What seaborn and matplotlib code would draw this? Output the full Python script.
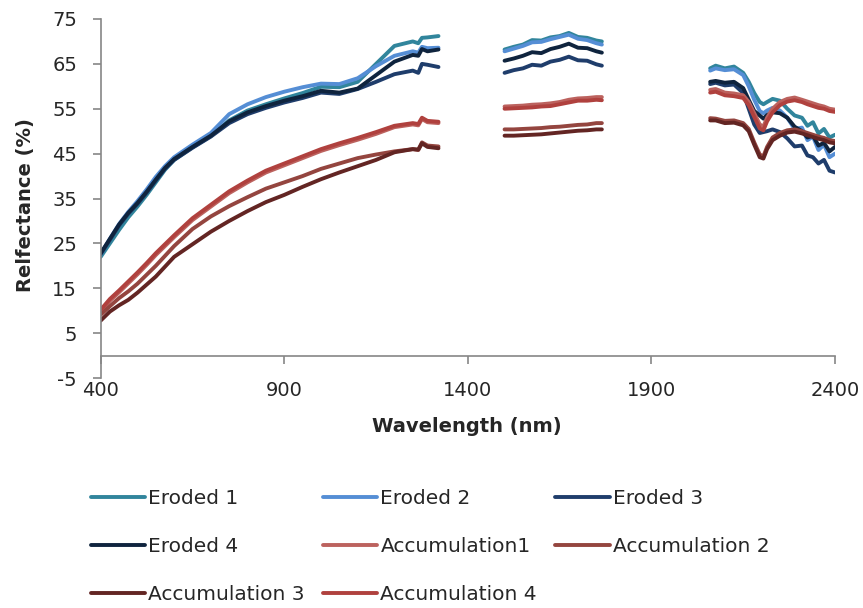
import numpy as np
import pandas as pd
import matplotlib
matplotlib.use('Agg')
import matplotlib.pyplot as plt
import seaborn as sns

series = ['Eroded 1', 'Eroded 2', 'Eroded 3', 'Eroded 4',
          'Accumulation1', 'Accumulation 2', 'Accumulation 3', 'Accumulation 4']
colores = ['#31859C', '#558ED5', '#1F3D6B', '#0F243E',
           '#BC625E', '#94453F', '#632523', '#B0413E']

# segmento 1: VNIR / SWIR1 (400-1320 nm)
wl1 = [400, 425, 450, 475, 500, 525, 550, 575, 600, 650, 700, 750, 800, 850,
       900, 950, 1000, 1050, 1100, 1150, 1200, 1250, 1265, 1275, 1290, 1320]
er1_s1 = [22.0, 25.0, 28.0, 30.8, 33.2, 35.8, 38.6, 41.4, 43.6, 46.4, 48.9, 52.4, 54.6, 56.0,
          57.3, 58.5, 59.9, 59.8, 61.0, 65.0, 69.0, 70.0, 69.6, 70.8, 70.9, 71.2]
er2_s1 = [22.6, 26.0, 29.3, 32.0, 34.4, 37.0, 39.8, 42.2, 44.2, 47.0, 49.6, 53.8, 56.0, 57.6,
          58.8, 59.8, 60.6, 60.5, 61.8, 64.5, 66.8, 67.8, 67.5, 68.8, 68.5, 68.6]
er3_s1 = [22.6, 25.8, 29.0, 31.6, 33.8, 36.3, 39.0, 41.6, 43.6, 46.3, 48.8, 51.8, 53.8, 55.2,
          56.4, 57.4, 58.6, 58.3, 59.4, 61.0, 62.7, 63.5, 63.0, 65.0, 64.8, 64.3]
er4_s1 = [22.8, 26.0, 29.2, 31.8, 34.0, 36.5, 39.2, 41.8, 43.8, 46.5, 49.0, 52.2, 54.2, 55.6,
          56.8, 57.8, 59.0, 58.6, 59.5, 62.5, 65.5, 67.0, 66.8, 68.3, 67.8, 68.2]
ac1_s1 = [9.8, 12.2, 14.1, 16.1, 18.1, 20.2, 22.4, 24.4, 26.4, 30.2, 33.2, 36.2, 38.6, 40.8,
          42.4, 44.0, 45.6, 46.9, 48.1, 49.4, 50.9, 51.5, 51.3, 52.7, 52.0, 51.8]
ac2_s1 = [9.1, 11.0, 12.8, 14.3, 16.0, 18.0, 20.0, 22.2, 24.4, 28.2, 31.0, 33.3, 35.3, 37.2,
          38.6, 40.0, 41.6, 42.8, 44.0, 44.8, 45.5, 46.0, 45.8, 47.5, 46.8, 46.6]
ac3_s1 = [7.8, 9.8, 11.2, 12.4, 14.0, 15.8, 17.6, 19.8, 22.0, 24.8, 27.6, 30.0, 32.2, 34.2,
          35.8, 37.6, 39.3, 40.8, 42.2, 43.6, 45.3, 46.0, 45.9, 47.3, 46.5, 46.2]
ac4_s1 = [10.2, 12.6, 14.5, 16.5, 18.5, 20.6, 22.8, 24.8, 26.8, 30.6, 33.6, 36.6, 39.0, 41.2,
          42.8, 44.4, 46.0, 47.3, 48.5, 49.8, 51.2, 51.8, 51.6, 53.0, 52.3, 52.1]

# segmento 2: SWIR (1500-1765 nm)
wl2 = [1500, 1525, 1550, 1575, 1600, 1625, 1650, 1675, 1700, 1725, 1750, 1765]
er1_s2 = [68.2, 68.8, 69.3, 70.3, 70.2, 70.9, 71.2, 71.9, 71.0, 70.8, 70.2, 70.0]
er2_s2 = [67.8, 68.4, 69.0, 69.8, 69.9, 70.5, 71.0, 71.5, 70.6, 70.3, 69.6, 69.3]
er3_s2 = [63.0, 63.6, 64.0, 64.8, 64.6, 65.5, 65.9, 66.6, 65.8, 65.7, 64.9, 64.6]
er4_s2 = [65.7, 66.2, 66.8, 67.6, 67.4, 68.3, 68.8, 69.5, 68.6, 68.5, 67.8, 67.5]
ac1_s2 = [55.5, 55.6, 55.7, 55.9, 56.0, 56.2, 56.5, 57.0, 57.3, 57.4, 57.6, 57.6]
ac2_s2 = [50.4, 50.4, 50.5, 50.6, 50.7, 50.9, 51.0, 51.2, 51.4, 51.5, 51.8, 51.8]
ac3_s2 = [49.0, 49.0, 49.1, 49.2, 49.3, 49.5, 49.7, 49.9, 50.1, 50.2, 50.4, 50.4]
ac4_s2 = [55.0, 55.1, 55.2, 55.3, 55.5, 55.6, 56.0, 56.4, 56.8, 56.8, 57.0, 56.9]

# segmento 3: SWIR2 (2060-2400 nm)
wl3 = [2060, 2075, 2100, 2125, 2150, 2165, 2180, 2195, 2205, 2215, 2230, 2250,
       2270, 2290, 2310, 2325, 2340, 2355, 2370, 2385, 2400]
er1_s3 = [64.0, 64.6, 64.0, 64.4, 63.0, 61.0, 58.5, 56.5, 56.0, 56.5, 57.2, 56.8,
          55.0, 53.5, 53.0, 51.2, 52.0, 49.5, 50.5, 48.6, 49.2]
er2_s3 = [63.5, 64.0, 63.6, 63.8, 62.5, 60.0, 57.0, 54.5, 54.0, 54.6, 55.2, 54.6,
          53.0, 50.5, 50.8, 48.0, 48.8, 45.8, 47.0, 44.2, 45.0]
er3_s3 = [60.5, 60.8, 60.2, 60.4, 58.5, 55.0, 51.5, 49.6, 49.8, 50.0, 50.4, 49.8,
          48.4, 46.6, 46.8, 44.6, 44.2, 42.8, 43.6, 41.2, 40.8]
er4_s3 = [61.0, 61.2, 60.8, 61.0, 59.6, 57.0, 54.5, 53.5, 52.8, 53.6, 54.2, 54.0,
          53.0, 51.0, 50.0, 48.6, 49.0, 46.8, 47.4, 45.5, 46.5]
ac1_s3 = [59.2, 59.4, 58.6, 58.4, 58.0, 56.5, 54.0, 51.5, 51.0, 53.0, 55.0, 56.5,
          57.2, 57.5, 57.0, 56.6, 56.2, 55.8, 55.5, 55.0, 54.8]
ac2_s3 = [52.9, 52.8, 52.3, 52.4, 51.8, 50.5, 47.5, 44.8, 44.4, 46.5, 48.6, 49.6,
          50.2, 50.4, 50.0, 49.6, 49.2, 48.8, 48.5, 48.0, 47.8]
ac3_s3 = [52.4, 52.4, 51.8, 51.9, 51.3, 50.0, 47.0, 44.2, 43.9, 46.0, 48.0, 49.0,
          49.7, 49.9, 49.5, 49.1, 48.7, 48.3, 48.0, 47.5, 47.3]
ac4_s3 = [58.6, 58.8, 58.0, 57.8, 57.4, 55.8, 53.2, 50.6, 50.2, 52.2, 54.2, 55.8,
          56.6, 56.9, 56.5, 56.0, 55.6, 55.2, 55.0, 54.5, 54.3]

xticks = [400, 900, 1400, 1900, 2400]
yticks = [-5, 5, 15, 25, 35, 45, 55, 65, 75]

segmentos = [
    (wl1, [er1_s1, er2_s1, er3_s1, er4_s1, ac1_s1, ac2_s1, ac3_s1, ac4_s1]),
    (wl2, [er1_s2, er2_s2, er3_s2, er4_s2, ac1_s2, ac2_s2, ac3_s2, ac4_s2]),
    (wl3, [er1_s3, er2_s3, er3_s3, er4_s3, ac1_s3, ac2_s3, ac3_s3, ac4_s3]),
]
linhas = []
for k, (wl, vals) in enumerate(segmentos):
    for nome, v in zip(series, vals):
        linhas.append(pd.DataFrame({'wl': wl, 'refl': v, 'serie': nome, 'seg': k}))
df = pd.concat(linhas, ignore_index=True)

sns.set_style('white')
plt.rcParams['font.family'] = ['DejaVu Sans']
plt.rcParams['axes.unicode_minus'] = False

fig = plt.figure(figsize=(8.63, 6.08), dpi=100)
ax = fig.add_axes([100.7 / 863, 1 - 378 / 608, (835 - 100.7) / 863, (378 - 19) / 608])

sns.lineplot(data=df, x='wl', y='refl', hue='serie', units='seg', estimator=None,
             hue_order=series, palette=colores, linewidth=2.8, sort=False, ax=ax)

ax.set_xlim(400, 2400)
ax.set_ylim(-5, 75)
ax.set_yticks(yticks)
ax.set_xticks(xticks)
for s in ['top', 'right']:
    ax.spines[s].set_visible(False)
for s in ['left', 'bottom']:
    ax.spines[s].set_color('#868686')
    ax.spines[s].set_linewidth(1.2)
ax.spines['bottom'].set_position(('data', 0))
ax.tick_params(axis='x', bottom=True, labelbottom=False, direction='out', length=6,
               color='#868686', width=1.2)
ax.tick_params(axis='y', left=True, direction='out', length=6, color='#868686', width=1.2,
               labelsize=14, pad=11)
ax.set_xlabel('')
ax.set_ylabel('')

secax = ax.secondary_xaxis(0)
secax.set_xticks(xticks)
secax.tick_params(length=0, pad=2, labelsize=14)
secax.spines['bottom'].set_visible(False)

fig.text(25 / 863, 1 - 205 / 608, 'Relfectance (%)', rotation=90, ha='center', va='center',
         fontsize=14, fontweight='bold')
fig.text(467 / 863, 1 - 426 / 608, 'Wavelength (nm)', ha='center', va='center',
         fontsize=14, fontweight='bold')

handles, labels = ax.get_legend_handles_labels()
ax.get_legend().remove()
ordem = ['Eroded 1', 'Eroded 4', 'Accumulation 3', 'Eroded 2', 'Accumulation1',
         'Accumulation 4', 'Eroded 3', 'Accumulation 2']
hmap = dict(zip(labels, handles))
fig.legend([hmap[n] for n in ordem], ordem, ncol=3, loc='upper left',
           bbox_to_anchor=(91 / 863, 1 - 489 / 608), frameon=False, fontsize=14.5,
           handlelength=2.7, handletextpad=0.15, columnspacing=0.9, labelspacing=1.45,
           borderpad=0, borderaxespad=0)

plt.savefig('out.png', dpi=100)
